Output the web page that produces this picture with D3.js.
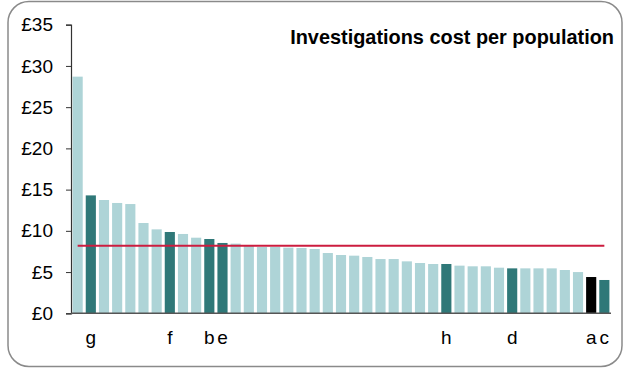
<!DOCTYPE html>
<html><head><meta charset="utf-8">
<script src="https://cdn.jsdelivr.net/npm/d3@7"></script>
<style>body{margin:0;background:#fff;} svg{display:block;font-family:"Liberation Sans",Arial,sans-serif;}</style>
</head><body>
<script>
const values = [28.7,14.3,13.74,13.38,13.25,10.95,10.18,9.86,9.62,9.17,9.01,8.53,8.45,8.2,8.04,8.04,7.96,7.92,7.8,7.31,7.07,6.99,6.83,6.58,6.58,6.3,6.1,5.98,5.98,5.78,5.7,5.7,5.53,5.45,5.45,5.45,5.45,5.25,5.0,4.4,4.04];
const highlight = ["","g","","","","","","f","","","b","e","","","","","","","","","","","","","","","","","h","","","","","d","","","","","","a","c"];
const kinds = highlight.map(h => h === "a" ? "own" : (h ? "peer" : "other"));
const average = 8.2;
const yTicks = [0,5,10,15,20,25,30,35];
const title = "Investigations cost per population";

const W = 623, H = 369;
const svg = d3.select("body").append("svg").attr("width", W).attr("height", H);

svg.append("rect").attr("x", 8).attr("y", 1.5).attr("width", 614).attr("height", 365)
  .attr("rx", 21).attr("fill", "#fff").attr("stroke", "#8a8a8a").attr("stroke-width", 1.5);

const idx = values.map((d,i)=>i);
const x = d3.scaleBand().domain(idx).range([71, 611]).paddingInner(0.23).paddingOuter(0.12);
const y = d3.scaleLinear().domain([0, 35]).range([313.3, 24.7]);

const colors = {other:"#aed4d7", peer:"#2f7878", own:"#000000"};

svg.append("g").selectAll("rect").data(values).join("rect")
  .attr("x", (d,i)=>x(i)).attr("width", x.bandwidth())
  .attr("y", d=>y(d)).attr("height", d=>y(0)-y(d))
  .attr("fill", (d,i)=>colors[kinds[i]]);

// average line
svg.append("line")
  .attr("x1", x(0)+x.bandwidth()/2).attr("x2", x(values.length-1)+x.bandwidth()/2)
  .attr("y1", y(average)).attr("y2", y(average))
  .attr("stroke", "#cc1c3f").attr("stroke-width", 2);

// y axis
const yAxis = d3.axisLeft(y).tickValues(yTicks).tickSize(5).tickPadding(13).tickFormat(d=>"£"+d);
const ga = svg.append("g").attr("transform","translate(71,0)").call(yAxis);
ga.select(".domain").attr("stroke","#333").attr("stroke-width",1.2);
ga.selectAll(".tick line").attr("stroke","#333");
ga.selectAll(".tick text").attr("font-size", 19).attr("fill","#000").attr("font-family","Liberation Sans, Arial, sans-serif");

// x baseline
svg.append("line").attr("x1",71).attr("x2",611).attr("y1",y(0)).attr("y2",y(0))
  .attr("stroke","#555").attr("stroke-width",1.5);

// category labels
svg.append("g").selectAll("text").data(idx.filter(i=>highlight[i])).join("text")
  .attr("x", i=>x(i)+x.bandwidth()/2).attr("y", 344)
  .attr("text-anchor","middle").attr("font-size", 19).attr("fill","#000")
  .text(i=>highlight[i]);

// title
const t = svg.append("text").attr("x", 614).attr("y", 44).attr("text-anchor","end")
  .attr("font-size", 20).attr("font-weight","bold").attr("fill","#000").text(title);
const tw = t.node().getComputedTextLength();
t.attr("font-size", 20*324/tw);
</script>
</body></html>
